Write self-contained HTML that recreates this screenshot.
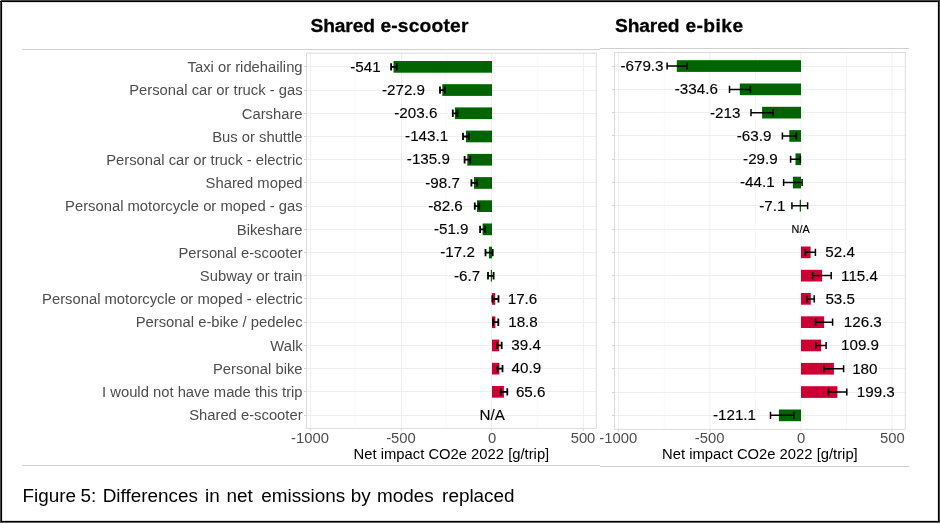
<!DOCTYPE html>
<html lang="en">
<head>
<meta charset="utf-8">
<title>Figure 5: Differences in net emissions by modes replaced</title>
<style>
html,body{margin:0;padding:0;background:#fff;}
body{width:940px;height:524px;overflow:hidden;font-family:"Liberation Sans",sans-serif;}
svg{display:block;}
</style>
</head>
<body>
<svg width="940" height="524" viewBox="0 0 940 524" font-family="'Liberation Sans', sans-serif">
<rect x="0" y="0" width="940" height="524" fill="#fff"/>
<rect x="22" y="49" width="578" height="1" fill="#cfcfcf"/>
<rect x="600" y="48" width="309" height="1" fill="#cfcfcf"/>
<rect x="22" y="465" width="578" height="1" fill="#cfcfcf"/>
<rect x="600" y="466" width="309" height="1" fill="#cfcfcf"/>
<text transform="translate(302.6 72.0) scale(1 1.02)" font-size="14.8" text-anchor="end" fill="#4d4d4d">Taxi or ridehailing</text>
<text transform="translate(302.6 95.3) scale(1 1.02)" font-size="14.8" text-anchor="end" fill="#4d4d4d">Personal car or truck - gas</text>
<text transform="translate(302.6 118.5) scale(1 1.02)" font-size="14.8" text-anchor="end" fill="#4d4d4d">Carshare</text>
<text transform="translate(302.6 141.7) scale(1 1.02)" font-size="14.8" text-anchor="end" fill="#4d4d4d">Bus or shuttle</text>
<text transform="translate(302.6 164.9) scale(1 1.02)" font-size="14.8" text-anchor="end" fill="#4d4d4d">Personal car or truck - electric</text>
<text transform="translate(302.6 188.1) scale(1 1.02)" font-size="14.8" text-anchor="end" fill="#4d4d4d">Shared moped</text>
<text transform="translate(302.6 211.3) scale(1 1.02)" font-size="14.8" text-anchor="end" fill="#4d4d4d">Personal motorcycle or moped - gas</text>
<text transform="translate(302.6 234.5) scale(1 1.02)" font-size="14.8" text-anchor="end" fill="#4d4d4d">Bikeshare</text>
<text transform="translate(302.6 257.8) scale(1 1.02)" font-size="14.8" text-anchor="end" fill="#4d4d4d">Personal e-scooter</text>
<text transform="translate(302.6 281.0) scale(1 1.02)" font-size="14.8" text-anchor="end" fill="#4d4d4d">Subway or train</text>
<text transform="translate(302.6 304.2) scale(1 1.02)" font-size="14.8" text-anchor="end" fill="#4d4d4d">Personal motorcycle or moped - electric</text>
<text transform="translate(302.6 327.4) scale(1 1.02)" font-size="14.8" text-anchor="end" fill="#4d4d4d">Personal e-bike / pedelec</text>
<text transform="translate(302.6 350.6) scale(1 1.02)" font-size="14.8" text-anchor="end" fill="#4d4d4d">Walk</text>
<text transform="translate(302.6 373.8) scale(1 1.02)" font-size="14.8" text-anchor="end" fill="#4d4d4d">Personal bike</text>
<text transform="translate(302.6 397.0) scale(1 1.02)" font-size="14.8" text-anchor="end" fill="#4d4d4d">I would not have made this trip</text>
<text transform="translate(302.6 420.3) scale(1 1.02)" font-size="14.8" text-anchor="end" fill="#4d4d4d">Shared e-scooter</text>
<rect x="306.5" y="53.2" width="289.8" height="375.2" fill="#fff"/>
<line x1="355.6" x2="355.6" y1="53.2" y2="428.45" stroke="#f6f6f6" stroke-width="0.8"/>
<line x1="446.4" x2="446.4" y1="53.2" y2="428.45" stroke="#f6f6f6" stroke-width="0.8"/>
<line x1="537.4" x2="537.4" y1="53.2" y2="428.45" stroke="#f6f6f6" stroke-width="0.8"/>
<line x1="310.4" x2="310.4" y1="53.2" y2="428.45" stroke="#efefef" stroke-width="1"/>
<line x1="310.4" x2="310.4" y1="428.45" y2="430.6" stroke="#d2d2d2" stroke-width="1"/>
<line x1="401.5" x2="401.5" y1="53.2" y2="428.45" stroke="#efefef" stroke-width="1"/>
<line x1="401.5" x2="401.5" y1="428.45" y2="430.6" stroke="#d2d2d2" stroke-width="1"/>
<line x1="491.5" x2="491.5" y1="53.2" y2="428.45" stroke="#efefef" stroke-width="1"/>
<line x1="491.5" x2="491.5" y1="428.45" y2="430.6" stroke="#d2d2d2" stroke-width="1"/>
<line x1="583.4" x2="583.4" y1="53.2" y2="428.45" stroke="#efefef" stroke-width="1"/>
<line x1="583.4" x2="583.4" y1="428.45" y2="430.6" stroke="#d2d2d2" stroke-width="1"/>
<line x1="306.5" x2="596.3" y1="66.5" y2="66.5" stroke="#efefef" stroke-width="1"/>
<line x1="304.1" x2="306.5" y1="66.5" y2="66.5" stroke="#d2d2d2" stroke-width="1"/>
<line x1="306.5" x2="596.3" y1="90.5" y2="90.5" stroke="#efefef" stroke-width="1"/>
<line x1="304.1" x2="306.5" y1="90.5" y2="90.5" stroke="#d2d2d2" stroke-width="1"/>
<line x1="306.5" x2="596.3" y1="113.5" y2="113.5" stroke="#efefef" stroke-width="1"/>
<line x1="304.1" x2="306.5" y1="113.5" y2="113.5" stroke="#d2d2d2" stroke-width="1"/>
<line x1="306.5" x2="596.3" y1="136.5" y2="136.5" stroke="#efefef" stroke-width="1"/>
<line x1="304.1" x2="306.5" y1="136.5" y2="136.5" stroke="#d2d2d2" stroke-width="1"/>
<line x1="306.5" x2="596.3" y1="159.5" y2="159.5" stroke="#efefef" stroke-width="1"/>
<line x1="304.1" x2="306.5" y1="159.5" y2="159.5" stroke="#d2d2d2" stroke-width="1"/>
<line x1="306.5" x2="596.3" y1="182.5" y2="182.5" stroke="#efefef" stroke-width="1"/>
<line x1="304.1" x2="306.5" y1="182.5" y2="182.5" stroke="#d2d2d2" stroke-width="1"/>
<line x1="306.5" x2="596.3" y1="206.5" y2="206.5" stroke="#efefef" stroke-width="1"/>
<line x1="304.1" x2="306.5" y1="206.5" y2="206.5" stroke="#d2d2d2" stroke-width="1"/>
<line x1="306.5" x2="596.3" y1="229.5" y2="229.5" stroke="#efefef" stroke-width="1"/>
<line x1="304.1" x2="306.5" y1="229.5" y2="229.5" stroke="#d2d2d2" stroke-width="1"/>
<line x1="306.5" x2="596.3" y1="252.5" y2="252.5" stroke="#efefef" stroke-width="1"/>
<line x1="304.1" x2="306.5" y1="252.5" y2="252.5" stroke="#d2d2d2" stroke-width="1"/>
<line x1="306.5" x2="596.3" y1="275.5" y2="275.5" stroke="#efefef" stroke-width="1"/>
<line x1="304.1" x2="306.5" y1="275.5" y2="275.5" stroke="#d2d2d2" stroke-width="1"/>
<line x1="306.5" x2="596.3" y1="298.5" y2="298.5" stroke="#efefef" stroke-width="1"/>
<line x1="304.1" x2="306.5" y1="298.5" y2="298.5" stroke="#d2d2d2" stroke-width="1"/>
<line x1="306.5" x2="596.3" y1="322.5" y2="322.5" stroke="#efefef" stroke-width="1"/>
<line x1="304.1" x2="306.5" y1="322.5" y2="322.5" stroke="#d2d2d2" stroke-width="1"/>
<line x1="306.5" x2="596.3" y1="345.5" y2="345.5" stroke="#efefef" stroke-width="1"/>
<line x1="304.1" x2="306.5" y1="345.5" y2="345.5" stroke="#d2d2d2" stroke-width="1"/>
<line x1="306.5" x2="596.3" y1="368.5" y2="368.5" stroke="#efefef" stroke-width="1"/>
<line x1="304.1" x2="306.5" y1="368.5" y2="368.5" stroke="#d2d2d2" stroke-width="1"/>
<line x1="306.5" x2="596.3" y1="391.5" y2="391.5" stroke="#efefef" stroke-width="1"/>
<line x1="304.1" x2="306.5" y1="391.5" y2="391.5" stroke="#d2d2d2" stroke-width="1"/>
<line x1="306.5" x2="596.3" y1="415.5" y2="415.5" stroke="#efefef" stroke-width="1"/>
<line x1="304.1" x2="306.5" y1="415.5" y2="415.5" stroke="#d2d2d2" stroke-width="1"/>
<rect x="306.5" y="53.2" width="289.8" height="375.2" fill="none" stroke="#dcdcdc" stroke-width="1"/>
<rect x="393.5" y="61.0" width="98.5" height="11.7" fill="#006400"/>
<rect x="442.3" y="84.2" width="49.7" height="11.7" fill="#006400"/>
<rect x="454.9" y="107.4" width="37.1" height="11.7" fill="#006400"/>
<rect x="466.0" y="130.6" width="26.0" height="11.7" fill="#006400"/>
<rect x="467.3" y="153.9" width="24.7" height="11.7" fill="#006400"/>
<rect x="474.0" y="177.1" width="18.0" height="11.7" fill="#006400"/>
<rect x="477.0" y="200.3" width="15.0" height="11.7" fill="#006400"/>
<rect x="482.6" y="223.5" width="9.4" height="11.7" fill="#006400"/>
<rect x="488.9" y="246.7" width="3.1" height="11.7" fill="#006400"/>
<rect x="490.8" y="269.9" width="1.2" height="11.7" fill="#006400"/>
<rect x="492.0" y="293.1" width="3.2" height="11.7" fill="#cc0033"/>
<rect x="492.0" y="316.4" width="3.4" height="11.7" fill="#cc0033"/>
<rect x="492.0" y="339.6" width="7.2" height="11.7" fill="#cc0033"/>
<rect x="492.0" y="362.8" width="7.4" height="11.7" fill="#cc0033"/>
<rect x="492.0" y="386.0" width="11.9" height="11.7" fill="#cc0033"/>
<path d="M391.1 63.2V70.5M396.8 63.2V70.5M391.1 66.8H396.8" stroke="#000" stroke-width="1.8" fill="none"/>
<path d="M440.0 86.4V93.7M444.9 86.4V93.7M440.0 90.1H444.9" stroke="#000" stroke-width="1.8" fill="none"/>
<path d="M452.8 109.6V116.9M457.4 109.6V116.9M452.8 113.3H457.4" stroke="#000" stroke-width="1.8" fill="none"/>
<path d="M463.0 132.8V140.1M468.9 132.8V140.1M463.0 136.5H468.9" stroke="#000" stroke-width="1.8" fill="none"/>
<path d="M464.6 156.1V163.4M470.3 156.1V163.4M464.6 159.7H470.3" stroke="#000" stroke-width="1.8" fill="none"/>
<path d="M471.4 179.3V186.6M477.2 179.3V186.6M471.4 182.9H477.2" stroke="#000" stroke-width="1.8" fill="none"/>
<path d="M474.8 202.5V209.8M479.2 202.5V209.8M474.8 206.1H479.2" stroke="#000" stroke-width="1.8" fill="none"/>
<path d="M480.1 225.7V233.0M485.2 225.7V233.0M480.1 229.3H485.2" stroke="#000" stroke-width="1.8" fill="none"/>
<path d="M485.5 248.9V256.2M492.7 248.9V256.2M485.5 252.6H492.7" stroke="#000" stroke-width="1.8" fill="none"/>
<path d="M488.0 272.1V279.4M493.6 272.1V279.4M488.0 275.8H493.6" stroke="#000" stroke-width="1.8" fill="none"/>
<path d="M492.3 295.3V302.6M498.5 295.3V302.6M492.3 299.0H498.5" stroke="#000" stroke-width="1.8" fill="none"/>
<path d="M493.1 318.6V325.9M498.3 318.6V325.9M493.1 322.2H498.3" stroke="#000" stroke-width="1.8" fill="none"/>
<path d="M497.3 341.8V349.1M501.7 341.8V349.1M497.3 345.4H501.7" stroke="#000" stroke-width="1.8" fill="none"/>
<path d="M497.5 365.0V372.3M502.5 365.0V372.3M497.5 368.6H502.5" stroke="#000" stroke-width="1.8" fill="none"/>
<path d="M500.7 388.2V395.5M507.3 388.2V395.5M500.7 391.8H507.3" stroke="#000" stroke-width="1.8" fill="none"/>
<text transform="translate(365.4 71.5) scale(1 1.02)" font-size="15.2" text-anchor="middle" fill="#000" stroke="#000" stroke-width="0.12">-541</text>
<text transform="translate(403.5 94.8) scale(1 1.02)" font-size="15.2" text-anchor="middle" fill="#000" stroke="#000" stroke-width="0.12">-272.9</text>
<text transform="translate(415.8 118.0) scale(1 1.02)" font-size="15.2" text-anchor="middle" fill="#000" stroke="#000" stroke-width="0.12">-203.6</text>
<text transform="translate(426.6 141.2) scale(1 1.02)" font-size="15.2" text-anchor="middle" fill="#000" stroke="#000" stroke-width="0.12">-143.1</text>
<text transform="translate(428.4 164.4) scale(1 1.02)" font-size="15.2" text-anchor="middle" fill="#000" stroke="#000" stroke-width="0.12">-135.9</text>
<text transform="translate(442.6 187.6) scale(1 1.02)" font-size="15.2" text-anchor="middle" fill="#000" stroke="#000" stroke-width="0.12">-98.7</text>
<text transform="translate(445.5 210.8) scale(1 1.02)" font-size="15.2" text-anchor="middle" fill="#000" stroke="#000" stroke-width="0.12">-82.6</text>
<text transform="translate(451.2 234.0) scale(1 1.02)" font-size="15.2" text-anchor="middle" fill="#000" stroke="#000" stroke-width="0.12">-51.9</text>
<text transform="translate(457.6 257.3) scale(1 1.02)" font-size="15.2" text-anchor="middle" fill="#000" stroke="#000" stroke-width="0.12">-17.2</text>
<text transform="translate(467.1 280.5) scale(1 1.02)" font-size="15.2" text-anchor="middle" fill="#000" stroke="#000" stroke-width="0.12">-6.7</text>
<text transform="translate(522.5 303.7) scale(1 1.02)" font-size="15.2" text-anchor="middle" fill="#000" stroke="#000" stroke-width="0.12">17.6</text>
<text transform="translate(523.0 326.9) scale(1 1.02)" font-size="15.2" text-anchor="middle" fill="#000" stroke="#000" stroke-width="0.12">18.8</text>
<text transform="translate(526.1 350.1) scale(1 1.02)" font-size="15.2" text-anchor="middle" fill="#000" stroke="#000" stroke-width="0.12">39.4</text>
<text transform="translate(526.4 373.3) scale(1 1.02)" font-size="15.2" text-anchor="middle" fill="#000" stroke="#000" stroke-width="0.12">40.9</text>
<text transform="translate(530.7 396.5) scale(1 1.02)" font-size="15.2" text-anchor="middle" fill="#000" stroke="#000" stroke-width="0.12">65.6</text>
<text transform="translate(492.1 419.8) scale(1 1.02)" font-size="15.2" text-anchor="middle" fill="#000" stroke="#000" stroke-width="0.12">N/A</text>
<text transform="translate(310.0 442.9) scale(1 1.02)" font-size="14.8" text-anchor="middle" fill="#4d4d4d">-1000</text>
<text transform="translate(401.0 442.9) scale(1 1.02)" font-size="14.8" text-anchor="middle" fill="#4d4d4d">-500</text>
<text transform="translate(492.0 442.9) scale(1 1.02)" font-size="14.8" text-anchor="middle" fill="#4d4d4d">0</text>
<text transform="translate(583.0 442.9) scale(1 1.02)" font-size="14.8" text-anchor="middle" fill="#4d4d4d">500</text>
<text transform="translate(451.4 458.6) scale(1 1.02)" font-size="14.8" text-anchor="middle" fill="#000">Net impact CO2e 2022 [g/trip]</text>
<rect x="614.5" y="52.5" width="290.8" height="376.9" fill="#fff"/>
<line x1="664.2" x2="664.2" y1="52.5" y2="429.4" stroke="#f6f6f6" stroke-width="0.8"/>
<line x1="755.5" x2="755.5" y1="52.5" y2="429.4" stroke="#f6f6f6" stroke-width="0.8"/>
<line x1="846.5" x2="846.5" y1="52.5" y2="429.4" stroke="#f6f6f6" stroke-width="0.8"/>
<line x1="618.5" x2="618.5" y1="52.5" y2="429.4" stroke="#efefef" stroke-width="1"/>
<line x1="618.5" x2="618.5" y1="429.4" y2="431.6" stroke="#d2d2d2" stroke-width="1"/>
<line x1="709.9" x2="709.9" y1="52.5" y2="429.4" stroke="#efefef" stroke-width="1"/>
<line x1="709.9" x2="709.9" y1="429.4" y2="431.6" stroke="#d2d2d2" stroke-width="1"/>
<line x1="801.0" x2="801.0" y1="52.5" y2="429.4" stroke="#efefef" stroke-width="1"/>
<line x1="801.0" x2="801.0" y1="429.4" y2="431.6" stroke="#d2d2d2" stroke-width="1"/>
<line x1="892.0" x2="892.0" y1="52.5" y2="429.4" stroke="#efefef" stroke-width="1"/>
<line x1="892.0" x2="892.0" y1="429.4" y2="431.6" stroke="#d2d2d2" stroke-width="1"/>
<line x1="614.5" x2="905.3" y1="66.5" y2="66.5" stroke="#efefef" stroke-width="1"/>
<line x1="612.1" x2="614.5" y1="66.5" y2="66.5" stroke="#d2d2d2" stroke-width="1"/>
<line x1="614.5" x2="905.3" y1="89.5" y2="89.5" stroke="#efefef" stroke-width="1"/>
<line x1="612.1" x2="614.5" y1="89.5" y2="89.5" stroke="#d2d2d2" stroke-width="1"/>
<line x1="614.5" x2="905.3" y1="112.5" y2="112.5" stroke="#efefef" stroke-width="1"/>
<line x1="612.1" x2="614.5" y1="112.5" y2="112.5" stroke="#d2d2d2" stroke-width="1"/>
<line x1="614.5" x2="905.3" y1="135.5" y2="135.5" stroke="#efefef" stroke-width="1"/>
<line x1="612.1" x2="614.5" y1="135.5" y2="135.5" stroke="#d2d2d2" stroke-width="1"/>
<line x1="614.5" x2="905.3" y1="159.5" y2="159.5" stroke="#efefef" stroke-width="1"/>
<line x1="612.1" x2="614.5" y1="159.5" y2="159.5" stroke="#d2d2d2" stroke-width="1"/>
<line x1="614.5" x2="905.3" y1="182.5" y2="182.5" stroke="#efefef" stroke-width="1"/>
<line x1="612.1" x2="614.5" y1="182.5" y2="182.5" stroke="#d2d2d2" stroke-width="1"/>
<line x1="614.5" x2="905.3" y1="205.5" y2="205.5" stroke="#efefef" stroke-width="1"/>
<line x1="612.1" x2="614.5" y1="205.5" y2="205.5" stroke="#d2d2d2" stroke-width="1"/>
<line x1="614.5" x2="905.3" y1="229.5" y2="229.5" stroke="#efefef" stroke-width="1"/>
<line x1="612.1" x2="614.5" y1="229.5" y2="229.5" stroke="#d2d2d2" stroke-width="1"/>
<line x1="614.5" x2="905.3" y1="252.5" y2="252.5" stroke="#efefef" stroke-width="1"/>
<line x1="612.1" x2="614.5" y1="252.5" y2="252.5" stroke="#d2d2d2" stroke-width="1"/>
<line x1="614.5" x2="905.3" y1="275.5" y2="275.5" stroke="#efefef" stroke-width="1"/>
<line x1="612.1" x2="614.5" y1="275.5" y2="275.5" stroke="#d2d2d2" stroke-width="1"/>
<line x1="614.5" x2="905.3" y1="298.5" y2="298.5" stroke="#efefef" stroke-width="1"/>
<line x1="612.1" x2="614.5" y1="298.5" y2="298.5" stroke="#d2d2d2" stroke-width="1"/>
<line x1="614.5" x2="905.3" y1="322.5" y2="322.5" stroke="#efefef" stroke-width="1"/>
<line x1="612.1" x2="614.5" y1="322.5" y2="322.5" stroke="#d2d2d2" stroke-width="1"/>
<line x1="614.5" x2="905.3" y1="345.5" y2="345.5" stroke="#efefef" stroke-width="1"/>
<line x1="612.1" x2="614.5" y1="345.5" y2="345.5" stroke="#d2d2d2" stroke-width="1"/>
<line x1="614.5" x2="905.3" y1="368.5" y2="368.5" stroke="#efefef" stroke-width="1"/>
<line x1="612.1" x2="614.5" y1="368.5" y2="368.5" stroke="#d2d2d2" stroke-width="1"/>
<line x1="614.5" x2="905.3" y1="392.5" y2="392.5" stroke="#efefef" stroke-width="1"/>
<line x1="612.1" x2="614.5" y1="392.5" y2="392.5" stroke="#d2d2d2" stroke-width="1"/>
<line x1="614.5" x2="905.3" y1="415.5" y2="415.5" stroke="#efefef" stroke-width="1"/>
<line x1="612.1" x2="614.5" y1="415.5" y2="415.5" stroke="#d2d2d2" stroke-width="1"/>
<rect x="614.5" y="52.5" width="290.8" height="376.9" fill="none" stroke="#dcdcdc" stroke-width="1"/>
<rect x="676.8" y="60.2" width="124.2" height="11.7" fill="#006400"/>
<rect x="739.8" y="83.5" width="61.2" height="11.7" fill="#006400"/>
<rect x="762.1" y="106.8" width="38.9" height="11.7" fill="#006400"/>
<rect x="789.3" y="130.1" width="11.7" height="11.7" fill="#006400"/>
<rect x="795.5" y="153.4" width="5.5" height="11.7" fill="#006400"/>
<rect x="792.9" y="176.7" width="8.1" height="11.7" fill="#006400"/>
<rect x="799.7" y="199.9" width="1.3" height="11.7" fill="#006400"/>
<rect x="801.0" y="246.5" width="9.6" height="11.7" fill="#cc0033"/>
<rect x="801.0" y="269.8" width="21.1" height="11.7" fill="#cc0033"/>
<rect x="801.0" y="293.0" width="9.8" height="11.7" fill="#cc0033"/>
<rect x="801.0" y="316.3" width="23.1" height="11.7" fill="#cc0033"/>
<rect x="801.0" y="339.6" width="20.1" height="11.7" fill="#cc0033"/>
<rect x="801.0" y="362.9" width="32.9" height="11.7" fill="#cc0033"/>
<rect x="801.0" y="386.2" width="36.4" height="11.7" fill="#cc0033"/>
<rect x="778.9" y="409.5" width="22.1" height="11.7" fill="#006400"/>
<path d="M667.1 62.5V69.6M687.0 62.5V69.6M667.1 66.1H687.0" stroke="#000" stroke-width="1.5" fill="none"/>
<path d="M729.5 85.8V92.9M750.4 85.8V92.9M729.5 89.4H750.4" stroke="#000" stroke-width="1.5" fill="none"/>
<path d="M751.0 109.1V116.2M773.1 109.1V116.2M751.0 112.7H773.1" stroke="#000" stroke-width="1.5" fill="none"/>
<path d="M782.4 132.4V139.5M796.4 132.4V139.5M782.4 135.9H796.4" stroke="#000" stroke-width="1.5" fill="none"/>
<path d="M790.6 155.7V162.8M800.4 155.7V162.8M790.6 159.2H800.4" stroke="#000" stroke-width="1.5" fill="none"/>
<path d="M783.6 178.9V186.1M802.1 178.9V186.1M783.6 182.5H802.1" stroke="#000" stroke-width="1.5" fill="none"/>
<path d="M791.9 202.2V209.3M807.6 202.2V209.3M791.9 205.8H807.6" stroke="#000" stroke-width="1.5" fill="none"/>
<path d="M805.4 248.8V255.9M815.4 248.8V255.9M805.4 252.3H815.4" stroke="#000" stroke-width="1.5" fill="none"/>
<path d="M812.6 272.1V279.2M831.2 272.1V279.2M812.6 275.6H831.2" stroke="#000" stroke-width="1.5" fill="none"/>
<path d="M807.0 295.3V302.4M814.2 295.3V302.4M807.0 298.9H814.2" stroke="#000" stroke-width="1.5" fill="none"/>
<path d="M815.5 318.6V325.7M832.6 318.6V325.7M815.5 322.2H832.6" stroke="#000" stroke-width="1.5" fill="none"/>
<path d="M815.8 341.9V349.0M826.1 341.9V349.0M815.8 345.5H826.1" stroke="#000" stroke-width="1.5" fill="none"/>
<path d="M824.0 365.2V372.3M843.6 365.2V372.3M824.0 368.7H843.6" stroke="#000" stroke-width="1.5" fill="none"/>
<path d="M828.4 388.5V395.6M846.8 388.5V395.6M828.4 392.0H846.8" stroke="#000" stroke-width="1.5" fill="none"/>
<path d="M770.5 411.8V418.9M793.9 411.8V418.9M770.5 415.3H793.9" stroke="#000" stroke-width="1.5" fill="none"/>
<text transform="translate(642.0 71.0) scale(1 1.02)" font-size="15.2" text-anchor="middle" fill="#000" stroke="#000" stroke-width="0.12">-679.3</text>
<text transform="translate(696.3 94.3) scale(1 1.02)" font-size="15.2" text-anchor="middle" fill="#000" stroke="#000" stroke-width="0.12">-334.6</text>
<text transform="translate(725.2 117.6) scale(1 1.02)" font-size="15.2" text-anchor="middle" fill="#000" stroke="#000" stroke-width="0.12">-213</text>
<text transform="translate(754.1 140.8) scale(1 1.02)" font-size="15.2" text-anchor="middle" fill="#000" stroke="#000" stroke-width="0.12">-63.9</text>
<text transform="translate(760.4 164.1) scale(1 1.02)" font-size="15.2" text-anchor="middle" fill="#000" stroke="#000" stroke-width="0.12">-29.9</text>
<text transform="translate(757.3 187.4) scale(1 1.02)" font-size="15.2" text-anchor="middle" fill="#000" stroke="#000" stroke-width="0.12">-44.1</text>
<text transform="translate(772.3 210.7) scale(1 1.02)" font-size="15.2" text-anchor="middle" fill="#000" stroke="#000" stroke-width="0.12">-7.1</text>
<text transform="translate(800.6 232.9) scale(1 1.02)" font-size="10.8" text-anchor="middle" fill="#000" stroke="#000" stroke-width="0.15">N/A</text>
<text transform="translate(840.1 257.2) scale(1 1.02)" font-size="15.2" text-anchor="middle" fill="#000" stroke="#000" stroke-width="0.12">52.4</text>
<text transform="translate(859.5 280.5) scale(1 1.02)" font-size="15.2" text-anchor="middle" fill="#000" stroke="#000" stroke-width="0.12">115.4</text>
<text transform="translate(840.2 303.8) scale(1 1.02)" font-size="15.2" text-anchor="middle" fill="#000" stroke="#000" stroke-width="0.12">53.5</text>
<text transform="translate(862.8 327.1) scale(1 1.02)" font-size="15.2" text-anchor="middle" fill="#000" stroke="#000" stroke-width="0.12">126.3</text>
<text transform="translate(860.0 350.4) scale(1 1.02)" font-size="15.2" text-anchor="middle" fill="#000" stroke="#000" stroke-width="0.12">109.9</text>
<text transform="translate(864.8 373.6) scale(1 1.02)" font-size="15.2" text-anchor="middle" fill="#000" stroke="#000" stroke-width="0.12">180</text>
<text transform="translate(875.8 396.9) scale(1 1.02)" font-size="15.2" text-anchor="middle" fill="#000" stroke="#000" stroke-width="0.12">199.3</text>
<text transform="translate(734.5 420.2) scale(1 1.02)" font-size="15.2" text-anchor="middle" fill="#000" stroke="#000" stroke-width="0.12">-121.1</text>
<text transform="translate(618.2 442.9) scale(1 1.02)" font-size="14.8" text-anchor="middle" fill="#4d4d4d">-1000</text>
<text transform="translate(709.6 442.9) scale(1 1.02)" font-size="14.8" text-anchor="middle" fill="#4d4d4d">-500</text>
<text transform="translate(801.0 442.9) scale(1 1.02)" font-size="14.8" text-anchor="middle" fill="#4d4d4d">0</text>
<text transform="translate(892.4 442.9) scale(1 1.02)" font-size="14.8" text-anchor="middle" fill="#4d4d4d">500</text>
<text transform="translate(759.9 458.6) scale(1 1.02)" font-size="14.8" text-anchor="middle" fill="#000">Net impact CO2e 2022 [g/trip]</text>
<text y="31.8" font-size="19.2" font-weight="bold" fill="#000" stroke="#000" stroke-width="0.3"><tspan x="310.6" letter-spacing="-0.15">Shared </tspan><tspan x="380.4" letter-spacing="0.2">e-scooter</tspan></text>
<text y="31.8" font-size="19.2" font-weight="bold" fill="#000" stroke="#000" stroke-width="0.3"><tspan x="615.1" letter-spacing="-0.15">Shared </tspan><tspan x="685.4" letter-spacing="0.45">e-bike</tspan></text>
<text y="501.8" font-size="18.9" fill="#000"><tspan x="22.5">Figure </tspan><tspan x="80.6">5: </tspan><tspan x="102.7">Differences </tspan><tspan x="205.1">in </tspan><tspan x="226.6">net </tspan><tspan x="261.2">emissions </tspan><tspan x="350.8">by </tspan><tspan x="377.1">modes </tspan><tspan x="442.1">replaced</tspan></text>
<g shape-rendering="crispEdges">
<rect x="0" y="0" width="940" height="1" fill="#444"/><rect x="0" y="0" width="1" height="523" fill="#444"/>
<rect x="2" y="2" width="936" height="1" fill="#e4e4e4"/><rect x="2" y="2" width="1" height="519" fill="#e4e4e4"/>
<rect x="937" y="2" width="1" height="519" fill="#e0e0e0"/><rect x="2" y="520" width="936" height="1" fill="#dcdcdc"/>
<rect x="1" y="1" width="938" height="1" fill="#000"/><rect x="1" y="1" width="1" height="521" fill="#000"/>
<rect x="938" y="1" width="1" height="521" fill="#000"/><rect x="939" y="0" width="1" height="523" fill="#444"/>
<rect x="1" y="521" width="938" height="1" fill="#000"/><rect x="0" y="522" width="940" height="1" fill="#5a5a5a"/>
<rect x="0" y="0" width="1" height="1" fill="#ccc"/><rect x="0" y="1" width="1" height="1" fill="#000"/>
</g>
</svg>
</body>
</html>
